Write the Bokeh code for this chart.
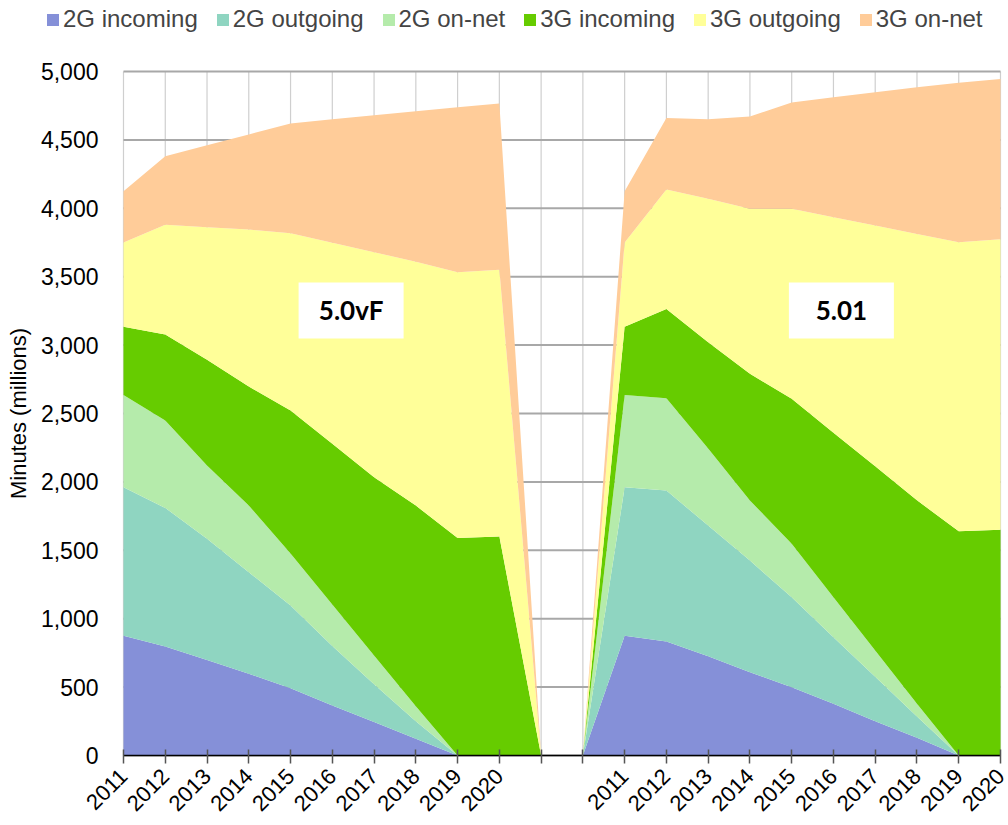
from bokeh.plotting import figure
from bokeh.models import ColumnDataSource, Range1d, FixedTicker, NumeralTickFormatter, Legend
from bokeh.embed import file_html
from bokeh.resources import INLINE
from bokeh.core.properties import value
import math

years = ["2011", "2012", "2013", "2014", "2015", "2016", "2017", "2018", "2019", "2020"]
gap_labels = ["", ""]
tick_labels = years + gap_labels + years
y_ticks = [0, 500, 1000, 1500, 2000, 2500, 3000, 3500, 4000, 4500, 5000]

series_names = ["2G incoming", "2G outgoing", "2G on-net", "3G incoming", "3G outgoing", "3G on-net"]
colors = ["#8590D8", "#8FD5C1", "#B5EBAB", "#66CC00", "#FFFF99", "#FFCC99"]

# scenario "5.0vF" (left block)
a_2g_in = [875, 797, 699, 597, 492, 365, 244, 122, 0, 0]
a_2g_out = [1085, 1013, 885, 743, 604, 435, 276, 128, 0, 0]
a_2g_net = [675, 639, 536, 487, 381, 304, 211, 110, 0, 0]
a_3g_in = [500, 628, 772, 870, 1045, 1174, 1303, 1467, 1589, 1601]
a_3g_out = [615, 802, 970, 1148, 1296, 1470, 1645, 1782, 1944, 1949]
a_3g_net = [375, 502, 598, 695, 802, 903, 1002, 1101, 1206, 1216]

# scenario "5.01" (right block)
b_2g_in = [875, 833, 726, 609, 499, 378, 251, 129, 0, 0]
b_2g_out = [1085, 1104, 955, 816, 658, 487, 324, 156, 0, 0]
b_2g_net = [675, 675, 564, 439, 390, 292, 193, 93, 0, 0]
b_3g_in = [500, 651, 776, 926, 1060, 1203, 1347, 1487, 1640, 1650]
b_3g_out = [615, 874, 1048, 1206, 1389, 1575, 1759, 1948, 2112, 2124]
b_3g_net = [375, 524, 582, 675, 777, 877, 975, 1072, 1165, 1172]

gap_values = [0, 0]

left_block = [a_2g_in, a_2g_out, a_2g_net, a_3g_in, a_3g_out, a_3g_net]
right_block = [b_2g_in, b_2g_out, b_2g_net, b_3g_in, b_3g_out, b_3g_net]

data = {"x": list(range(len(tick_labels)))}
for name, la, rb in zip(series_names, left_block, right_block):
    data[name] = la + gap_values + rb
source = ColumnDataSource(data)

# ---- layout: the frame covers the whole canvas; axes are pinned at data origin
W, H = 1008, 825
PLOT_LEFT, PLOT_RIGHT, PLOT_TOP, PLOT_BOTTOM = 123, 1000, 71, 755
x_first, x_last = data["x"][0], data["x"][-1]
ppu_x = (PLOT_RIGHT - PLOT_LEFT) / (x_last - x_first)
ppu_y = (PLOT_BOTTOM - PLOT_TOP) / (y_ticks[-1] - y_ticks[0])
x_range = Range1d(x_first - PLOT_LEFT / ppu_x, x_last + (W - PLOT_RIGHT) / ppu_x)
y_range = Range1d(y_ticks[0] - (H - PLOT_BOTTOM) / ppu_y, y_ticks[-1] + PLOT_TOP / ppu_y)

p = figure(width=W, height=H, output_backend="svg", toolbar_location=None,
           x_range=x_range, y_range=y_range,
           min_border_left=0, min_border_right=0, min_border_top=0, min_border_bottom=0)
p.outline_line_color = None
p.background_fill_color = "white"
p.xgrid.visible = False
p.ygrid.visible = False

# grid lines restricted to the value band
n = len(data["x"])
p.segment(x0=data["x"], y0=[y_ticks[0]] * n, x1=data["x"], y1=[y_ticks[-1]] * n,
          line_color="#CFCFCF", line_width=1.2, level="underlay")
m = len(y_ticks)
p.segment(x0=[x_first] * m, y0=y_ticks, x1=[x_last] * m, y1=y_ticks,
          line_color="#A8A8A8", line_width=2, level="underlay")

renderers = p.varea_stack(stackers=series_names, x="x", color=colors, source=source)

# x axis
p.xaxis.fixed_location = y_ticks[0]
p.xaxis.bounds = (x_first, x_last)
p.xaxis.ticker = FixedTicker(ticks=data["x"])
p.xaxis.major_label_overrides = {i: lab for i, lab in enumerate(tick_labels)}
p.xaxis.major_label_orientation = math.pi / 4
p.xaxis.major_label_text_font = "Liberation Sans"
p.xaxis.major_label_text_font_size = "22px"
p.xaxis.major_label_text_color = "black"
p.xaxis.axis_line_color = "black"
p.xaxis.axis_line_width = 1.5
p.xaxis.major_tick_line_color = "#555555"
p.xaxis.major_tick_line_width = 1.5
p.xaxis.major_tick_in = 6
p.xaxis.major_tick_out = 8
p.xaxis.minor_tick_line_color = None
p.xaxis.major_label_standoff = 9

# y axis
p.yaxis.fixed_location = x_first
p.yaxis.bounds = (y_ticks[0], y_ticks[-1])
p.yaxis.ticker = FixedTicker(ticks=y_ticks)
p.yaxis.formatter = NumeralTickFormatter(format="0,0")
p.yaxis.axis_line_color = None
p.yaxis.major_tick_line_color = None
p.yaxis.minor_tick_line_color = None
p.yaxis.major_label_text_font = "Liberation Sans"
p.yaxis.major_label_text_font_size = "23px"
p.yaxis.major_label_text_color = "black"
p.yaxis.major_label_standoff = 19
p.yaxis.axis_label = "Minutes (millions)"
p.yaxis.axis_label_text_font = "Liberation Sans"
p.yaxis.axis_label_text_font_size = "22px"
p.yaxis.axis_label_text_font_style = "normal"
p.yaxis.axis_label_text_color = "black"
p.yaxis.axis_label_standoff = 7

# scenario boxes
box_x = [5.45, 17.19]
box_y = [3253, 3253]
box_text = ["5.0vF", "5.01"]
p.rect(x=box_x, y=box_y, width=105, height=56, width_units="screen", height_units="screen",
       fill_color="white", line_color=None)
p.text(x=box_x, y=box_y, text=box_text, text_align="center", text_baseline="middle",
       text_font=value("Lato"), text_font_style="bold", text_font_size="26px", text_color="black")

legend = Legend(items=[(nm, [r]) for nm, r in zip(series_names, renderers)],
                orientation="horizontal", location=(45, H - 33))
legend.border_line_color = None
legend.background_fill_alpha = 0
legend.label_text_font = "Liberation Sans"
legend.label_text_font_size = "24px"
legend.glyph_width = 15
legend.glyph_height = 15
legend.label_standoff = 3
legend.spacing = 17
legend.padding = 0
legend.margin = 0
p.add_layout(legend, "center")

open("out.html", "w").write(file_html(p, INLINE))
